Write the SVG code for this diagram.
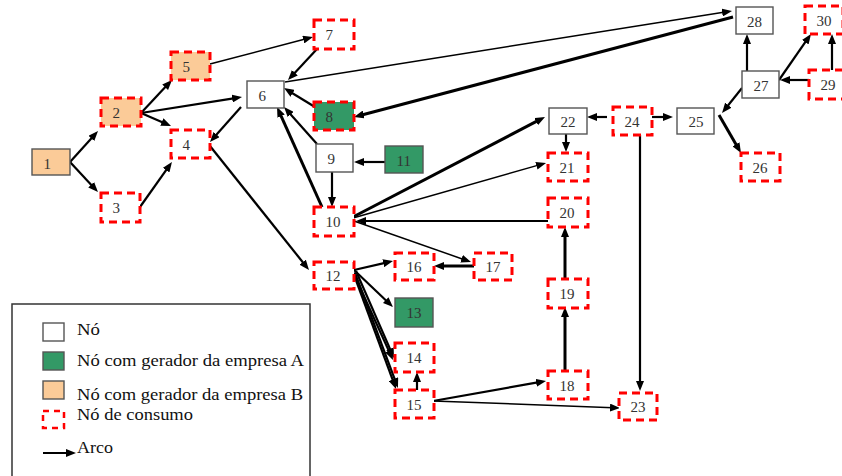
<svg xmlns="http://www.w3.org/2000/svg" width="842" height="476" viewBox="0 0 842 476">
<defs>
<style>
.pl{fill:#fff;stroke:#555;stroke-width:1.4}
.cs{fill:#fff;stroke:#f00;stroke-width:3;stroke-dasharray:8 5}
.ora{fill:#fbcb98}
.grn{fill:#339966}
.sol{stroke:#555;stroke-width:1.4}
.lb{font-family:"Liberation Serif","Times New Roman",serif;font-size:15px;fill:#333}
.lg{font-family:"Liberation Serif","Times New Roman",serif;font-size:17px;fill:#111}
#edges line{stroke:#000;stroke-width:2.2;marker-end:url(#ah)}
#edges line.t{stroke-width:1.5}
#edges line.k{stroke-width:3}
</style>
<marker id="ah" markerUnits="userSpaceOnUse" markerWidth="10" markerHeight="8" refX="3" refY="4" orient="auto"><path d="M0,0 L10,4 L0,8 z" fill="#000"/></marker>
</defs>
<rect width="842" height="476" fill="#fff"/>
<g id="edges">
<line x1="70" y1="162" x2="93.3" y2="136.2"/>
<line x1="70" y1="162" x2="93.2" y2="186.9"/>
<line x1="141" y1="113" x2="167.2" y2="85.1"/>
<line x1="141" y1="113" x2="235.1" y2="98.1"/>
<line x1="141" y1="113" x2="164.6" y2="123.2"/>
<line x1="140" y1="207" x2="167.9" y2="167.7"/>
<line x1="241" y1="107" x2="214.6" y2="136.8"/>
<line x1="210" y1="146" x2="304.6" y2="264.5"/>
<line class="t" x1="210" y1="64" x2="306.2" y2="38.8"/>
<line x1="317" y1="49" x2="292.8" y2="74.9"/>
<line class="t" x1="285" y1="82" x2="725.1" y2="12.1"/>
<line class="k" x1="733" y1="17" x2="360.8" y2="115.2"/>
<line x1="315" y1="107" x2="290" y2="91.7"/>
<line x1="317" y1="144" x2="288.7" y2="112.2"/>
<line class="k" x1="322" y1="207" x2="279.9" y2="113.4"/>
<line x1="385" y1="162" x2="361" y2="162"/>
<line x1="332" y1="172" x2="332" y2="200"/>
<line class="k" x1="353" y1="217" x2="538.8" y2="120.2"/>
<line class="t" x1="353" y1="218" x2="539.3" y2="164.9"/>
<line x1="548" y1="221" x2="363" y2="221"/>
<line class="t" x1="354" y1="221" x2="464.4" y2="259.7"/>
<line class="k" x1="474" y1="266" x2="441" y2="266"/>
<line x1="354" y1="270" x2="386.2" y2="262.6"/>
<line x1="354" y1="270" x2="387.9" y2="302.2"/>
<line x1="353" y1="272" x2="390.1" y2="353.6"/>
<line x1="356" y1="271" x2="391.2" y2="351.6"/>
<line x1="353" y1="272" x2="393.6" y2="382.4"/>
<line x1="355" y1="273" x2="395.5" y2="381.4"/>
<line x1="417" y1="390" x2="417" y2="379"/>
<line x1="433" y1="401" x2="539.1" y2="382.2"/>
<line class="t" x1="433" y1="401" x2="613" y2="407.7"/>
<line class="k" x1="565" y1="372" x2="565" y2="314"/>
<line class="k" x1="565" y1="279" x2="565" y2="234"/>
<line x1="640" y1="135" x2="640" y2="384"/>
<line x1="607" y1="117" x2="594" y2="117"/>
<line x1="652" y1="117" x2="666" y2="117"/>
<line x1="566" y1="134" x2="566" y2="145"/>
<line x1="742" y1="88" x2="726.4" y2="107.5"/>
<line class="k" x1="719" y1="115" x2="737.5" y2="146.9"/>
<line x1="747" y1="71" x2="747" y2="41"/>
<line x1="779" y1="80" x2="807" y2="39.7"/>
<line x1="832" y1="70" x2="832" y2="41"/>
<line x1="809" y1="80" x2="787" y2="80"/>
</g>
<g id="n1"><rect class="ora sol" x="32" y="149" width="38" height="26"/><text class="lb" x="43.5" y="168.5">1</text></g>
<g id="n2"><rect class="cs ora" x="101" y="98" width="40" height="28"/><text class="lb" x="112.5" y="117.5">2</text></g>
<g id="n3"><rect class="cs" x="101" y="193" width="39" height="29"/><text class="lb" x="112.5" y="212.5">3</text></g>
<g id="n4"><rect class="cs" x="171" y="130" width="39" height="28"/><text class="lb" x="182.5" y="149.5">4</text></g>
<g id="n5"><rect class="cs ora" x="171" y="52" width="39" height="28"/><text class="lb" x="182.5" y="71.5">5</text></g>
<g id="n6"><rect class="pl" x="247" y="81" width="37" height="27"/><text class="lb" x="258.5" y="100.5">6</text></g>
<g id="n7"><rect class="cs" x="314" y="20" width="40" height="29"/><text class="lb" x="325.5" y="39.5">7</text></g>
<g id="n8"><rect class="cs grn" x="314" y="102" width="40" height="28"/><text class="lb" x="325.5" y="121.5">8</text></g>
<g id="n9"><rect class="pl" x="316" y="144" width="37" height="28"/><text class="lb" x="327.5" y="163.5">9</text></g>
<g id="n10"><rect class="cs" x="314" y="207" width="40" height="29"/><text class="lb" x="325.5" y="226.5">10</text></g>
<g id="n11"><rect class="grn sol" x="385" y="146" width="38" height="27"/><text class="lb" x="396.5" y="165.5">11</text></g>
<g id="n12"><rect class="cs" x="314" y="262" width="40" height="27"/><text class="lb" x="325.5" y="281">12</text></g>
<g id="n13"><rect class="grn sol" x="395" y="298" width="38" height="29"/><text class="lb" x="406.5" y="318">13</text></g>
<g id="n14"><rect class="cs" x="395" y="343" width="39" height="29"/><text class="lb" x="406.5" y="363">14</text></g>
<g id="n15"><rect class="cs" x="395" y="390" width="39" height="28"/><text class="lb" x="406.5" y="409.5">15</text></g>
<g id="n16"><rect class="cs" x="395" y="253" width="39" height="27"/><text class="lb" x="406.5" y="272">16</text></g>
<g id="n17"><rect class="cs" x="474" y="253" width="38" height="27"/><text class="lb" x="485.5" y="272">17</text></g>
<g id="n18"><rect class="cs" x="548" y="371" width="40" height="28"/><text class="lb" x="559.5" y="390.5">18</text></g>
<g id="n19"><rect class="cs" x="548" y="279" width="40" height="29"/><text class="lb" x="559.5" y="298.5">19</text></g>
<g id="n20"><rect class="cs" x="548" y="198" width="40" height="29"/><text class="lb" x="559.5" y="217.5">20</text></g>
<g id="n21"><rect class="cs" x="548" y="153" width="40" height="28"/><text class="lb" x="559.5" y="172.5">21</text></g>
<g id="n22"><rect class="pl" x="549" y="108" width="38" height="26"/><text class="lb" x="560.5" y="127">22</text></g>
<g id="n23"><rect class="cs" x="619" y="393" width="38" height="27"/><text class="lb" x="630.5" y="412">23</text></g>
<g id="n24"><rect class="cs" x="613" y="107" width="39" height="28"/><text class="lb" x="624.5" y="126.5">24</text></g>
<g id="n25"><rect class="pl" x="677" y="108" width="37" height="26"/><text class="lb" x="688.5" y="127">25</text></g>
<g id="n26"><rect class="cs" x="741" y="153" width="39" height="28"/><text class="lb" x="752.5" y="172.5">26</text></g>
<g id="n27"><rect class="pl" x="742" y="71" width="37" height="27"/><text class="lb" x="753.5" y="90.5">27</text></g>
<g id="n28"><rect class="pl" x="736" y="7" width="37" height="27"/><text class="lb" x="747" y="26.5">28</text></g>
<g id="n29"><rect class="cs" x="809" y="70" width="38" height="29"/><text class="lb" x="820.5" y="90">29</text></g>
<g id="n30"><rect class="cs" x="805" y="6" width="38" height="28"/><text class="lb" x="816.5" y="26">30</text></g>
<g id="legend">
<rect x="12" y="304" width="298" height="180" fill="none" stroke="#333" stroke-width="1.5"/>
<rect class="pl" x="43" y="323" width="21" height="18"/>
<text class="lg" x="77" y="335" textLength="23" lengthAdjust="spacingAndGlyphs">Nó</text>
<rect class="grn sol" x="43" y="352" width="21" height="18"/>
<text class="lg" x="77" y="366" textLength="227" lengthAdjust="spacingAndGlyphs">Nó com gerador da empresa A</text>
<rect class="ora sol" x="43" y="381" width="21" height="18"/>
<text class="lg" x="77" y="400" textLength="226" lengthAdjust="spacingAndGlyphs">Nó com gerador da empresa B</text>
<rect x="43" y="411" width="21" height="17" fill="#fff" stroke="#f00" stroke-width="2.5" stroke-dasharray="6 5"/>
<text class="lg" x="77" y="420" textLength="116" lengthAdjust="spacingAndGlyphs">Nó de consumo</text>
<line x1="43" y1="453" x2="69" y2="453" stroke="#000" stroke-width="2" marker-end="url(#ah)"/>
<text class="lg" x="77" y="453" textLength="36" lengthAdjust="spacingAndGlyphs">Arco</text>
</g>
</svg>
